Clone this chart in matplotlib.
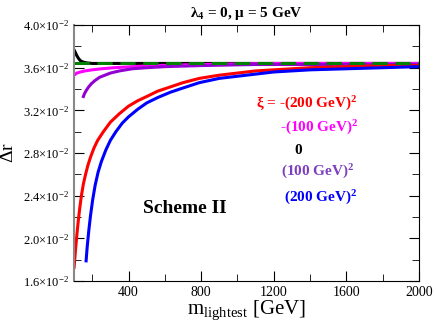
import matplotlib

matplotlib.use("Agg")
import matplotlib.pyplot as plt
from matplotlib.ticker import MultipleLocator, FuncFormatter

plt.rcParams["font.family"] = ["Liberation Serif", "DejaVu Serif"]
plt.rcParams["mathtext.fontset"] = "custom"
plt.rcParams["mathtext.rm"] = "Liberation Serif"
plt.rcParams["mathtext.it"] = "Liberation Serif:italic"
plt.rcParams["mathtext.bf"] = "Liberation Serif:bold"

# valores (m em GeV, Delta r)
m_red = [100, 108, 115, 122, 130, 140, 151, 163, 175, 190, 210, 230, 261, 300, 350, 400, 450, 500, 560,
         630, 700, 790, 900, 1000, 1100, 1200, 1400, 1600, 1800, 2000]
dr_red = [0.0173, 0.0190, 0.0203, 0.0215, 0.0227, 0.0240, 0.0251, 0.0260, 0.0268, 0.0276, 0.0285, 0.0292,
          0.0300, 0.0309, 0.0317, 0.0324, 0.0329, 0.0333, 0.0338, 0.0342, 0.0346, 0.0350, 0.0353, 0.0355,
          0.0357, 0.0358, 0.0360, 0.0361, 0.0362, 0.0362]

m_blue = [166, 172, 180, 190, 202, 216, 232, 250, 275, 300, 330, 365, 400, 450, 500, 560, 630, 700, 790,
          900, 1000, 1100, 1200, 1400, 1600, 1800, 2000]
dr_blue = [0.0179, 0.0192, 0.0206, 0.0221, 0.0236, 0.0250, 0.0262, 0.0272, 0.0283, 0.0292, 0.0300, 0.0308,
           0.0314, 0.0321, 0.0327, 0.0332, 0.0337, 0.0341, 0.0346, 0.0350, 0.0352, 0.0354, 0.0356, 0.0358,
           0.0359, 0.0360, 0.0361]

m_purple = [151, 158, 168, 180, 195, 215, 240, 270, 300, 350, 420, 500, 600, 800, 1100, 2000]
dr_purple = [0.0333, 0.0336, 0.0339, 0.0342, 0.0345, 0.0348, 0.0351, 0.0353, 0.0355, 0.0357, 0.0359,
             0.0360, 0.0361, 0.0362, 0.0363, 0.0363]

m_magenta = [100, 115, 135, 160, 200, 250, 320, 420, 550, 800, 1200, 2000]
dr_magenta = [0.0353, 0.0355, 0.0356, 0.0357, 0.0358, 0.0359, 0.0360, 0.0361, 0.0362, 0.0363, 0.0364, 0.0364]

m_black = [100, 105, 110, 116, 123, 132, 142, 155, 170, 200, 2000]
dr_black = [0.03765, 0.0375, 0.0373, 0.0371, 0.0369, 0.0367, 0.03658, 0.0365, 0.03645, 0.0364, 0.0364]

m_green = [100, 2000]
dr_green = [0.0364, 0.0364]

fig = plt.figure(figsize=(4.36, 3.25), dpi=100)
ax = fig.add_axes((0.170, 0.135, 0.791, 0.788))

lw = 2.2
ax.plot(m_black, dr_black, color="black", lw=lw)
ax.plot(m_magenta, dr_magenta, color="#ff00ff", lw=lw)
ax.plot(m_purple, dr_purple, color="#9400d3", lw=lw)
ax.plot(m_red, dr_red, color="red", lw=lw)
ax.plot(m_blue, dr_blue, color="blue", lw=lw)
ax.plot(m_green, dr_green, color="green", lw=lw, dashes=(5, 2.5))

ax.set_xlim(100, 2000)
ax.set_ylim(0.016, 0.040)
ax.xaxis.set_major_locator(MultipleLocator(400))
ax.xaxis.set_minor_locator(MultipleLocator(200))
ax.yaxis.set_major_locator(MultipleLocator(0.004))
ax.yaxis.set_minor_locator(MultipleLocator(0.002))
ax.yaxis.set_major_formatter(FuncFormatter(lambda v, p: f"{v * 100:.1f}×10$^{{-2}}$"))
ax.tick_params(which="both", direction="in", top=True, right=True, labelsize=10)
ax.tick_params(axis="y", labelsize=9)
ax.tick_params(which="major", length=7)
ax.tick_params(which="minor", length=5)
ax.spines["left"].set_color("#888888")
ax.spines["left"].set_linewidth(1.5)

ax.set_xlabel(r"m$_{\rm lightest}$ [GeV]", fontsize=15, labelpad=0)
ax.set_ylabel(r"$\Delta$r", fontsize=14)
ax.yaxis.set_label_coords(-0.165, 0.5)
ax.set_title(r"λ$_{\mathbf{4}}$ = 0, μ = 5 GeV", fontsize=11, fontweight="bold", pad=6)

kw = dict(transform=ax.transAxes, fontsize=11, fontweight="bold", va="center")
ax.text(0.675, 0.691, r"ξ = -(200 GeV)$^{\mathbf{2}}$", color="red", ha="center", **kw)
ax.text(0.71, 0.598, r"-(100 GeV)$^{\mathbf{2}}$", color="#ff00ff", ha="center", **kw)
ax.text(0.64, 0.512, "0", color="black", ha="left", **kw)
ax.text(0.705, 0.426, r"(100 GeV)$^{\mathbf{2}}$", color="#7b3fbf", ha="center", **kw)
ax.text(0.716, 0.324, r"(200 GeV)$^{\mathbf{2}}$", color="blue", ha="center", **kw)
ax.text(0.322, 0.285, "Scheme II", color="black", fontsize=14, fontweight="bold", ha="center", va="center",
        transform=ax.transAxes)

fig.savefig("out.png", dpi=100)
plt.close(fig)
